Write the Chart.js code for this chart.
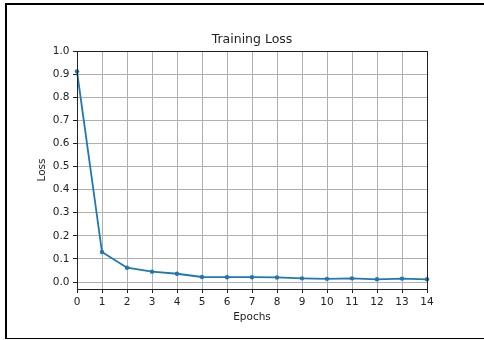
<!DOCTYPE html>
<html>
<head>
<meta charset="utf-8">
<script src="https://cdn.jsdelivr.net/npm/chart.js@4"></script>
<style>
  body { margin: 0; background: #fff; overflow: hidden; }
  #wrap { position: relative; width: 484px; height: 340px; }
  #frame {
    position: absolute; left: 5px; top: 3px; width: 500px; height: 333px;
    border-left: 2px solid #000; border-top: 2px solid #000; border-bottom: 1px solid #000;
    pointer-events: none;
  }
</style>
</head>
<body>
<div id="wrap">
  <canvas id="lossChart" width="484" height="340"></canvas>
  <div id="frame"></div>
</div>
<script>
// data
const epochs = [0, 1, 2, 3, 4, 5, 6, 7, 8, 9, 10, 11, 12, 13, 14];
const lossValues = [0.912, 0.13, 0.062, 0.045, 0.036, 0.022, 0.021, 0.021, 0.02, 0.016, 0.014, 0.016, 0.012, 0.015, 0.012];
const yTicks = [0.0, 0.1, 0.2, 0.3, 0.4, 0.5, 0.6, 0.7, 0.8, 0.9, 1.0];

const textColor = '#222';
const font = 'DejaVu Sans';

// full box around plot area, like matplotlib spines
const spines = {
  id: 'spines',
  afterDatasetsDraw(chart) {
    const a = chart.chartArea;
    const ctx = chart.ctx;
    ctx.save();
    ctx.strokeStyle = '#222';
    ctx.lineWidth = 1;
    ctx.strokeRect(Math.round(a.left) + 0.5, Math.round(a.top) + 0.5,
      Math.round(a.right - a.left), Math.round(a.bottom - a.top));
    ctx.restore();
  }
};

const ctx = document.getElementById('lossChart').getContext('2d');
new Chart(ctx, {
  type: 'line',
  data: {
    labels: epochs,
    datasets: [{
      label: 'Loss',
      data: lossValues,
      borderColor: '#1f77b4',
      backgroundColor: '#1f77b4',
      borderWidth: 1.8,
      pointRadius: 2.2,
      pointBorderWidth: 0,
      tension: 0,
      clip: 6
    }]
  },
  options: {
    responsive: false,
    animation: false,
    layout: { padding: { left: 0, top: 0, right: 57, bottom: 0 } },
    plugins: {
      legend: { display: false },
      tooltip: { enabled: false },
      title: {
        display: true,
        text: 'Training Loss',
        fullSize: false,
        color: textColor,
        font: { family: font, size: 12.5, weight: 'normal', lineHeight: 1.2 },
        padding: { top: 32.5, bottom: 3.5 }
      }
    },
    scales: {
      x: {
        type: 'category',
        offset: false,
        afterFit(scale) { scale.height = 51; },
        grid: { color: '#b0b0b0', lineWidth: 1, tickColor: '#222', tickLength: 4 },
        border: { display: false },
        ticks: {
          color: textColor, padding: 3, maxRotation: 0, autoSkip: false,
          font: { family: font, size: 10.5 }
        },
        title: {
          display: true, text: 'Epochs', color: textColor,
          font: { family: font, size: 10.5, lineHeight: 1.2 },
          padding: { top: 0, bottom: 16.7 }
        }
      },
      y: {
        type: 'linear',
        min: -0.03,
        max: 1.0,
        afterFit(scale) { scale.width = 77; },
        afterBuildTicks(scale) { scale.ticks = yTicks.map(v => ({ value: v })); },
        grid: { color: '#b0b0b0', lineWidth: 1, tickColor: '#222', tickLength: 4 },
        border: { display: false },
        ticks: {
          color: textColor, padding: 3.5,
          font: { family: font, size: 10.5 },
          callback: v => Number(v).toFixed(1)
        },
        title: {
          display: true, text: 'Loss', color: textColor,
          font: { family: font, size: 10.5, lineHeight: 1.2 },
          padding: { top: 36.4, bottom: 0 }
        }
      }
    }
  },
  plugins: [spines]
});
</script>
</body>
</html>
